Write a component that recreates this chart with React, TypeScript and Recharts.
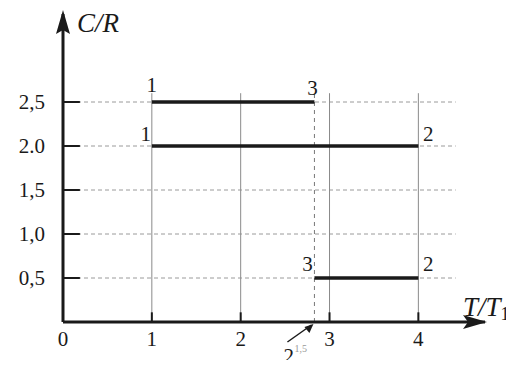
import React from 'react'
import { LineChart, Line, XAxis, YAxis, ReferenceLine, ReferenceDot } from 'recharts'

const FONT = "'Liberation Serif', 'Times New Roman', 'DejaVu Serif', serif"
const INK = '#1a1a1a'

// three constant-C segments: start T/T1, end T/T1, C/R
const T_START = [1, 1, 2.83]
const T_END = [2.83, 4, 4]
const C_R = [2.5, 2.0, 0.5]
const START_LABELS = ['1', '1', '3']
const END_LABELS = ['3', '2', '2']

const T_DASH = 2.83 // 2^1,5
const X_TICKS = [0, 1, 2, 3, 4]
const Y_TICKS = [0.5, 1.0, 1.5, 2.0, 2.5]
const Y_TICK_LABELS = ['0,5', '1,0', '1,5', '2.0', '2,5']

// label offsets (px) for start / end of each segment
const START_OFF: [number, number][] = [[0, -10], [-6, -5], [-7, -7]]
const END_OFF: [number, number][] = [[-2, -7], [10, -5], [10, -7]]

const segs = C_R.map((c, i) => [{ x: T_START[i], y: c }, { x: T_END[i], y: c }])

function txt(s: string, dx: number, dy: number, size = 21) {
  return (p: any) => (
    <text x={p.cx + dx} y={p.cy + dy} fontSize={size} style={{ fontFamily: FONT }} fill={INK} textAnchor="middle">{s}</text>
  )
}

export default function App() {
  return (
    <div style={{ margin: -8, fontFamily: FONT }}>
      <LineChart width={514} height={368} margin={{ top: 14, right: 29, left: 13, bottom: 16 }} style={{ fontFamily: FONT }}>
        <XAxis type="number" dataKey="x" domain={[0, 4.75]} ticks={X_TICKS} allowDataOverflow
          axisLine={{ stroke: INK, strokeWidth: 3 }} tickLine={false} tickSize={0} tickMargin={9} height={30}
          tick={{ fontSize: 21, fill: INK, style: { fontFamily: FONT } }} />
        <YAxis type="number" dataKey="y" domain={[0, 3.5]} ticks={Y_TICKS} allowDataOverflow
          axisLine={{ stroke: INK, strokeWidth: 3 }} tickLine={false} tickSize={0} tickMargin={18} width={50}
          tickFormatter={(v: number) => Y_TICK_LABELS[Y_TICKS.indexOf(v)] ?? ''}
          tick={{ fontSize: 21, fill: INK, style: { fontFamily: FONT } }} />

        {Y_TICKS.map((v) => (
          <ReferenceLine key={'h' + v} segment={[{ x: 0, y: v }, { x: 4.42, y: v }]} stroke="#9a9a9a" strokeDasharray="4 3" />
        ))}
        {X_TICKS.slice(1).map((v) => (
          <ReferenceLine key={'v' + v} segment={[{ x: v, y: 0 }, { x: v, y: 2.6 }]} stroke="#8a8a8a" />
        ))}
        <ReferenceLine segment={[{ x: T_DASH, y: 0 }, { x: T_DASH, y: 2.6 }]} stroke="#777" strokeDasharray="4 4" />
        {Y_TICKS.map((v) => (
          <ReferenceLine key={'ys' + v} segment={[{ x: 0, y: v }, { x: 0.19, y: v }]} stroke={INK} strokeWidth={2} />
        ))}
        {X_TICKS.slice(1).map((v) => (
          <ReferenceLine key={'xs' + v} segment={[{ x: v, y: 0 }, { x: v, y: 0.11 }]} stroke={INK} strokeWidth={2} />
        ))}

        {segs.map((d, i) => (
          <Line key={'s' + i} data={d} dataKey="y" stroke={INK} strokeWidth={3.5} dot={false} isAnimationActive={false} />
        ))}

        {C_R.map((c, i) => (
          <ReferenceDot key={'ls' + i} x={T_START[i]} y={c} r={0} ifOverflow="visible" shape={txt(START_LABELS[i], START_OFF[i][0], START_OFF[i][1])} />
        ))}
        {C_R.map((c, i) => (
          <ReferenceDot key={'le' + i} x={T_END[i]} y={c} r={0} ifOverflow="visible" shape={txt(END_LABELS[i], END_OFF[i][0], END_OFF[i][1])} />
        ))}

        {/* axis arrows and titles */}
        <ReferenceDot x={0} y={3.5} r={0} ifOverflow="visible" shape={(p: any) => (
          <g>
            <path d={`M${p.cx},${p.cy - 4} L${p.cx + 7},${p.cy + 20} L${p.cx},${p.cy + 16} L${p.cx - 7},${p.cy + 20} Z`} fill={INK} />
            <text x={p.cx + 14} y={p.cy + 18} fontSize={27} fontStyle="italic" style={{ fontFamily: FONT }} fill={INK}>C/R</text>
          </g>
        )} />
        <ReferenceDot x={4.75} y={0} r={0} ifOverflow="visible" shape={(p: any) => (
          <g>
            <path d={`M${p.cx + 2},${p.cy} L${p.cx - 22},${p.cy - 7} L${p.cx - 17},${p.cy} L${p.cx - 22},${p.cy + 7} Z`} fill={INK} />
            <text x={p.cx - 22} y={p.cy - 6} fontSize={27} fontStyle="italic" style={{ fontFamily: FONT }} fill={INK}>
              T/T<tspan fontSize={18} fontStyle="normal" dy={4}>1</tspan>
            </text>
          </g>
        )} />
        <ReferenceDot x={T_DASH} y={0} r={0} ifOverflow="visible" shape={(p: any) => (
          <g>
            <line x1={p.cx - 27} y1={p.cy + 20} x2={p.cx - 3} y2={p.cy + 3} stroke={INK} strokeWidth={1.5} />
            <path d={`M${p.cx - 1},${p.cy + 2} L${p.cx - 10},${p.cy + 5} L${p.cx - 5},${p.cy + 11} Z`} fill={INK} />
            <text x={p.cx - 31} y={p.cy + 41} fontSize={21} style={{ fontFamily: FONT }} fill={INK}>2</text>
            <text x={p.cx - 20} y={p.cy + 30} fontSize={10} style={{ fontFamily: FONT }} fill="#999">1,5</text>
          </g>
        )} />
      </LineChart>
    </div>
  )
}
